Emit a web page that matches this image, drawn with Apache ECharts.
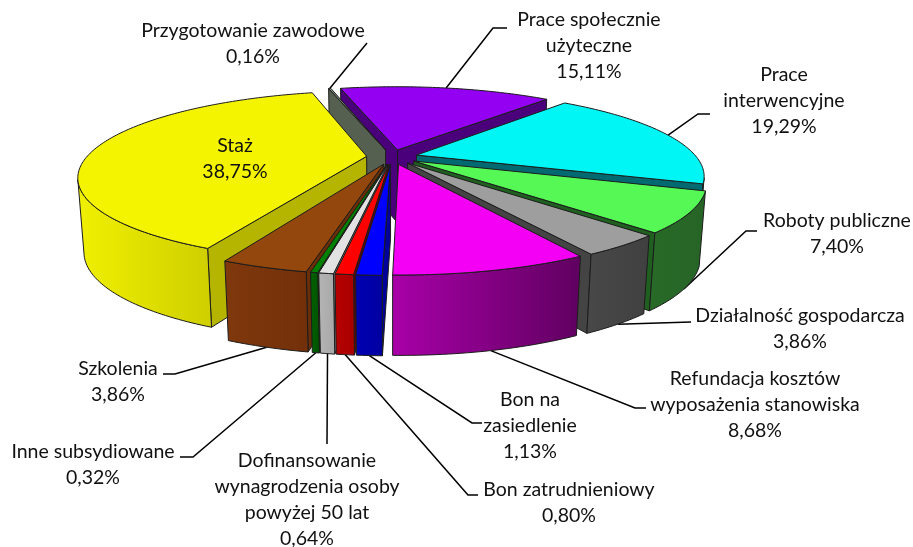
<!DOCTYPE html>
<html>
<head>
<meta charset="utf-8">
<script src="https://cdn.jsdelivr.net/npm/echarts@6/dist/echarts.min.js"></script>
<style>
  html, body { margin: 0; padding: 0; background: #fff; }
  #main { width: 913px; height: 547px; }
</style>
</head>
<body>
<div id="main"></div>
<script>
// data, clockwise from the top of the pie
const categories = [
  "Przygotowanie zawodowe", "Prace społecznie użyteczne", "Prace interwencyjne",
  "Roboty publiczne", "Działalność gospodarcza", "Refundacja kosztów wyposażenia stanowiska",
  "Bon na zasiedlenie", "Bon zatrudnieniowy", "Dofinansowanie wynagrodzenia osoby powyżej 50 lat",
  "Inne subsydiowane", "Szkolenia", "Staż",
];
const values = [0.16, 15.11, 19.29, 7.40, 3.86, 8.68, 1.13, 0.80, 0.64, 0.32, 3.86, 38.75];

// colours: top face, cut face, outer wall left / right
const topColors = ["#7f8f78", "#9400f2", "#00f5f5", "#55f855", "#9e9e9e", "#f400f4", "#0000ff", "#ff0000", "#e2e2e2", "#008000", "#94470c", "#f4f400"];
const cutColors = ["#556050", "#4a007a", "#006a70", "#1f5f1f", "#444444", "#555555", "#00009a", "#6a0000", "#8a8a8a", "#004c00", "#6a2e08", "#b5b500"];
const wallLeft = ["#556050", "#4a007a", "#009a9a", "#286a28", "#484848", "#a800a8", "#0000b4", "#b80000", "#b4b4b4", "#006000", "#80380c", "#f0f000"];
const wallRight = ["#556050", "#4a007a", "#007a7a", "#266426", "#404040", "#600060", "#0000a0", "#a80000", "#a8a8a8", "#005400", "#72300a", "#cfcf00"];

// label text lines and where they sit, leader goes label -> knee -> rim of the slice
const labelLines = [
  ["Przygotowanie zawodowe", "0,16%"],
  ["Prace społecznie", "użyteczne", "15,11%"],
  ["Prace", "interwencyjne", "19,29%"],
  ["Roboty publiczne", "7,40%"],
  ["Działalność gospodarcza", "3,86%"],
  ["Refundacja kosztów", "wyposażenia stanowiska", "8,68%"],
  ["Bon na", "zasiedlenie", "1,13%"],
  ["Bon zatrudnieniowy", "0,80%"],
  ["Dofinansowanie", "wynagrodzenia osoby", "powyżej 50 lat", "0,64%"],
  ["Inne subsydiowane", "0,32%"],
  ["Szkolenia", "3,86%"],
  ["Staż", "38,75%"],
];
const labelX = [253, 589, 784, 837, 800, 755, 530, 569, 307, 93, 118, 235];
const labelY = [31, 20, 75, 221, 316, 379, 400, 490, 461, 452, 369, 146];
const lineGap = 26;
const leaderPts = [
  [[367, 43]],
  [[507, 28], [493, 28]],
  [[710, 114], [698, 114]],
  [[757, 231], [746, 231]],
  [[691, 322]],
  [[646, 408], [635, 408]],
  [[482, 423], [472, 423]],
  [[478, 495], [468, 495]],
  [[327, 444]],
  [[180, 457], [193, 457]],
  [[163, 374], [175, 374]],
  null,
];
const leaderOnBottom = [false, false, false, true, true, true, true, true, true, true, true, false];

// pie geometry
const cx = 392, cy = 157;
const R = 280, H = 78, wallTaper = 0.14, explode = 25.5, rotation = -15;
const tilt = 16.8 * Math.PI / 180, camDist = 1150;

const total = values.reduce((a, b) => a + b, 0);
const rad = (d) => d * Math.PI / 180;

function project(x, y, z) {
  // walls get a bit shorter toward the viewer, same as the source picture
  const zz = z * (1 - wallTaper * y / R);
  const D = camDist - y * Math.cos(tilt) - zz * Math.sin(tilt);
  const s = camDist / D;
  return [cx + x * s, cy + (y * Math.sin(tilt) - zz * Math.cos(tilt)) * s];
}

function sliceAngles(i) {
  let before = 0;
  for (let k = 0; k < i; k++) before += values[k];
  return [rotation + before / total * 360, rotation + (before + values[i]) / total * 360];
}

function rimPoint(i, deg, z) {
  const [a0, a1] = sliceAngles(i);
  const mid = rad((a0 + a1) / 2);
  const ox = explode * Math.sin(mid), oy = -explode * Math.cos(mid);
  return project(ox + R * Math.sin(rad(deg)), oy - R * Math.cos(rad(deg)), z);
}

function apexPoint(i, z) {
  const [a0, a1] = sliceAngles(i);
  const mid = rad((a0 + a1) / 2);
  return project(explode * Math.sin(mid), -explode * Math.cos(mid), z);
}

function area(pts) {
  let s = 0;
  for (let k = 0; k < pts.length; k++) {
    const p = pts[k], q = pts[(k + 1) % pts.length];
    s += p[0] * q[1] - q[0] * p[1];
  }
  return s;
}

// paint back slices first
const paintOrder = values.map((v, i) => {
  const [a0, a1] = sliceAngles(i);
  return { i, depth: -Math.cos(rad((a0 + a1) / 2)) };
}).sort((a, b) => a.depth - b.depth).map((d) => d.i);

const edge = { stroke: "#1c1c1c", lineWidth: 1, lineJoin: "round" };

function renderSlice(params, api) {
  const i = params.dataIndex;
  const [a0, a1] = sliceAngles(i);
  const base = 10 + paintOrder.indexOf(i) * 5;
  const children = [];

  const steps = Math.max(2, Math.ceil(a1 - a0));
  const angs = [];
  for (let k = 0; k <= steps; k++) angs.push(a0 + (a1 - a0) * k / steps);

  // cut faces
  const cutStart = [apexPoint(i, 0), rimPoint(i, a0, 0), rimPoint(i, a0, -H), apexPoint(i, -H)];
  const cutEnd = [apexPoint(i, 0), rimPoint(i, a1, 0), rimPoint(i, a1, -H), apexPoint(i, -H)];
  if (area(cutStart) < 0) {
    children.push({ type: "polygon", z2: base, shape: { points: cutStart }, style: { fill: cutColors[i], ...edge } });
  }
  if (area(cutEnd) > 0) {
    children.push({ type: "polygon", z2: base, shape: { points: cutEnd }, style: { fill: cutColors[i], ...edge } });
  }

  // outer wall, only the part turned to the viewer
  let vis = [];
  for (let k = 0; k < steps; k++) {
    const quad = [rimPoint(i, angs[k], 0), rimPoint(i, angs[k + 1], 0), rimPoint(i, angs[k + 1], -H), rimPoint(i, angs[k], -H)];
    if (area(quad) < 0) vis.push(k);
  }
  if (vis.length) {
    const from = vis[0], to = vis[vis.length - 1] + 1;
    const pts = [];
    for (let k = from; k <= to; k++) pts.push(rimPoint(i, angs[k], 0));
    for (let k = to; k >= from; k--) pts.push(rimPoint(i, angs[k], -H));
    children.push({
      type: "polygon", z2: base + 1, shape: { points: pts },
      style: {
        fill: new echarts.graphic.LinearGradient(0, 0, 1, 0, [
          { offset: 0, color: wallLeft[i] },
          { offset: 1, color: wallRight[i] },
        ]),
        ...edge,
      },
    });
  }

  // top face
  const topPts = [apexPoint(i, 0)];
  angs.forEach((a) => topPts.push(rimPoint(i, a, 0)));
  children.push({ type: "polygon", z2: base + 2, shape: { points: topPts }, style: { fill: topColors[i], ...edge } });

  // leader line
  if (leaderPts[i]) {
    const mid = (a0 + a1) / 2;
    const pts = leaderPts[i].concat([rimPoint(i, mid, leaderOnBottom[i] ? -H : 0)]);
    children.push({ type: "polyline", z2: 1, shape: { points: pts }, style: { stroke: "#000", lineWidth: 1.5, fill: null } });
  }

  // label
  labelLines[i].forEach((line, n) => {
    children.push({
      type: "text", z2: 200,
      style: {
        text: line, x: labelX[i], y: labelY[i] + n * lineGap,
        align: "center", verticalAlign: "middle",
        font: '19.5px Lato', fill: "#111",
      },
    });
  });

  return { type: "group", children };
}

const chart = echarts.init(document.getElementById("main"));
chart.setOption({
  backgroundColor: "#fff",
  animation: false,
  series: [{
    type: "custom",
    coordinateSystem: "none",
    name: "Udział",
    clip: false,
    silent: true,
    renderItem: renderSlice,
    data: values.map((v, i) => ({ name: categories[i], value: [v] })),
  }],
});
</script>
</body>
</html>
